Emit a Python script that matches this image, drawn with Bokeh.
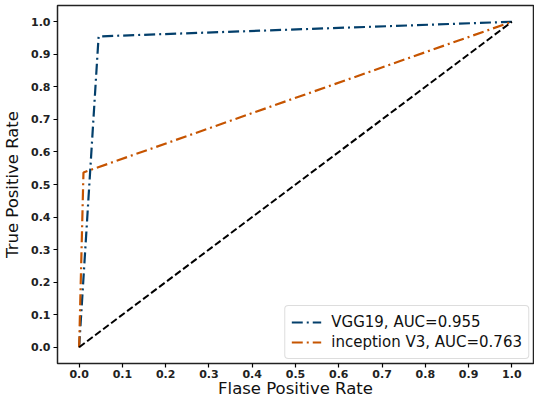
from bokeh.plotting import figure
from bokeh.models import Range1d, FixedTicker, Legend, LegendItem
from bokeh.embed import file_html
from bokeh.resources import INLINE

vgg_fpr = [0.0, 0.045, 1.0]
vgg_tpr = [0.0, 0.955, 1.0]
inc_fpr = [0.0, 0.01, 1.0]
inc_tpr = [0.0, 0.537, 1.0]
diag = [0.0, 1.0]
ticks = [0.0, 0.1, 0.2, 0.3, 0.4, 0.5, 0.6, 0.7, 0.8, 0.9, 1.0]
tick_labels = ["0.0", "0.1", "0.2", "0.3", "0.4", "0.5", "0.6", "0.7", "0.8", "0.9", "1.0"]
labels = ["VGG19, AUC=0.955", "inception V3, AUC=0.763"]
x_title = "Flase Positive Rate"
y_title = "True Positive Rate"

p = figure(width=534, height=400, output_backend="svg", toolbar_location=None,
           x_range=Range1d(-0.05, 1.05), y_range=Range1d(-0.05, 1.05),
           min_border_left=2, min_border_right=1, min_border_top=5, min_border_bottom=0)
p.xgrid.visible = False
p.ygrid.visible = False
p.outline_line_color = "#222222"
p.outline_line_width = 1.5

r1 = p.line(vgg_fpr, vgg_tpr, line_color="#033f6b", line_width=2.2, line_dash="11 4 2 4")
r2 = p.line(inc_fpr, inc_tpr, line_color="#c65400", line_width=2.2, line_dash="11 4 2 4")
p.line(diag, diag, line_color="black", line_width=2, line_dash="7 3")

for ax in (p.xaxis, p.yaxis):
    ax.ticker = FixedTicker(ticks=ticks)
    ax.major_label_overrides = {t: s for t, s in zip(ticks, tick_labels)}
    ax.minor_tick_line_color = None
    ax.major_tick_in = 0
    ax.major_tick_out = 4
    ax.major_tick_line_width = 1.2
    ax.axis_line_color = None
    ax.major_label_standoff = 3
    ax.major_label_text_font = "DejaVu Sans"
    ax.major_label_text_font_style = "bold"
    ax.major_label_text_font_size = "11px"
    ax.major_label_text_color = "#222222"
    ax.axis_label_text_font = "DejaVu Sans"
    ax.axis_label_text_font_style = "normal"
    ax.axis_label_text_font_size = "16.5px"
    ax.axis_label_text_color = "#111111"

p.xaxis.major_label_standoff = 2
p.xaxis.axis_label = x_title
p.yaxis.axis_label = y_title
p.xaxis.axis_label_standoff = -2
p.yaxis.axis_label_standoff = 6

legend = Legend(items=[LegendItem(label=labels[0], renderers=[r1]),
                       LegendItem(label=labels[1], renderers=[r2])],
                location="bottom_right")
legend.label_text_font = "DejaVu Sans"
legend.label_text_font_size = "15px"
legend.label_text_color = "#111111"
legend.border_line_color = "#bbbbbb"
legend.border_line_width = 1
legend.border_radius = 4
legend.glyph_width = 30
legend.spacing = 0
legend.padding = 6
legend.margin = 4
legend.label_standoff = 10
p.add_layout(legend)

open("out.html", "w").write(file_html(p, INLINE))
